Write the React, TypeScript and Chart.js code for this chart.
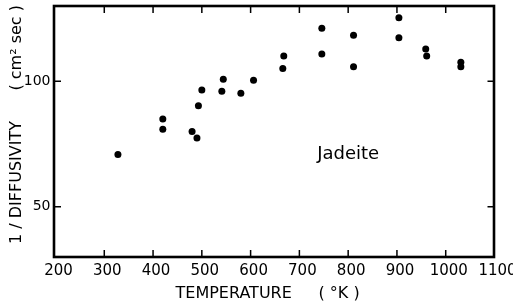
import React, { useEffect, useRef } from 'react';
import { Chart, registerables } from 'chart.js';

Chart.register(...registerables);

// Data (temperature in K, 1/diffusivity in cm^-2 sec)
const temperatureK = [328, 420, 420, 480, 490, 493, 500, 541, 544, 580, 606, 668, 666, 746, 746, 811, 811, 904, 904, 959, 961, 1031, 1031];
const inverseDiffusivity = [70.8, 85.0, 80.9, 80.0, 77.4, 90.3, 96.5, 96.0, 100.8, 95.2, 100.4, 110.1, 105.1, 121.1, 110.9, 118.3, 105.8, 125.3, 117.4, 112.9, 110.1, 107.6, 105.8];

const xTickValues = [200, 300, 400, 500, 600, 700, 800, 900, 1000, 1100];
const yTickValues = [50, 100];
const xRange = [200, 1100];
const yRange = [30, 130];

const seriesLabel = 'Jadeite';
const xTitleMain = 'TEMPERATURE';
const xTitleUnit = '( °K )';
const yTitleMain = '1 / DIFFUSIVITY';
const yTitleUnit = '( cm² sec )';
const annotationAt = { x: 800, y: 71 };

const FONT = '"DejaVu Sans", sans-serif';

const decorPlugin = {
  id: 'decor',
  afterDraw(chart: any) {
    const { ctx, chartArea } = chart;
    const xs = chart.scales.x;
    const ys = chart.scales.y;
    const { left, right, top, bottom } = chartArea;
    ctx.save();
    ctx.strokeStyle = '#000';
    // frame
    ctx.lineWidth = 2.6;
    ctx.strokeRect(left - 1.5, top, right - left + 1, bottom - top);
    // inward ticks
    ctx.lineWidth = 1.5;
    const tl = 7;
    xTickValues.forEach((v) => {
      if (v === xRange[0] || v === xRange[1]) return;
      const px = xs.getPixelForValue(v);
      ctx.beginPath();
      ctx.moveTo(px, bottom);
      ctx.lineTo(px, bottom - tl);
      ctx.moveTo(px, top);
      ctx.lineTo(px, top + tl);
      ctx.stroke();
    });
    yTickValues.forEach((v) => {
      const py = ys.getPixelForValue(v);
      ctx.beginPath();
      ctx.moveTo(left - 1.5, py);
      ctx.lineTo(left - 1.5 + tl, py);
      ctx.moveTo(right, py);
      ctx.lineTo(right - tl, py);
      ctx.stroke();
    });
    // annotation
    ctx.fillStyle = '#000';
    ctx.font = `18px ${FONT}`;
    ctx.textAlign = 'center';
    ctx.textBaseline = 'middle';
    ctx.fillText(seriesLabel, xs.getPixelForValue(annotationAt.x), ys.getPixelForValue(annotationAt.y));
    // x title
    ctx.font = `16px ${FONT}`;
    ctx.textAlign = 'left';
    ctx.fillText(xTitleMain, left + 120, bottom + 37);
    ctx.fillText(xTitleUnit, left + 263, bottom + 37);
    // y title
    ctx.translate(17, 0);
    ctx.rotate(-Math.PI / 2);
    ctx.textAlign = 'left';
    ctx.fillText(yTitleMain, -(bottom - 13), 0);
    ctx.textAlign = 'right';
    ctx.fillText(yTitleUnit, -(top - 1), 0);
    ctx.restore();
  },
};

export default function App() {
  const ref = useRef<HTMLCanvasElement | null>(null);
  useEffect(() => {
    if (!ref.current) return;
    const chart = new Chart(ref.current, {
      type: 'scatter',
      data: {
        datasets: [
          {
            label: seriesLabel,
            data: temperatureK.map((t, i) => ({ x: t, y: inverseDiffusivity[i] })),
            backgroundColor: '#000',
            borderWidth: 0,
            pointRadius: 3.5,
          },
        ],
      },
      options: {
        animation: false,
        responsive: false,
        events: [],
        layout: { padding: { top: 6, right: 18.5, bottom: 0, left: 0 } },
        plugins: { legend: { display: false }, tooltip: { enabled: false } },
        scales: {
          x: {
            type: 'linear',
            min: xRange[0],
            max: xRange[1],
            afterBuildTicks: (s: any) => {
              s.ticks = xTickValues.map((v) => ({ value: v }));
            },
            afterFit: (s: any) => {
              s.height = 49;
              s.paddingLeft = 0;
              s.paddingRight = 0;
            },
            grid: { display: false, drawTicks: false },
            border: { display: false },
            ticks: {
              color: '#000',
              font: { family: FONT, size: 15 },
              padding: 5,
              labelOffset: 3,
              maxRotation: 0,
              autoSkip: false,
              callback: (v: any) => String(v),
            },
          },
          y: {
            type: 'linear',
            min: yRange[0],
            max: yRange[1],
            afterBuildTicks: (s: any) => {
              s.ticks = yTickValues.map((v) => ({ value: v }));
            },
            afterFit: (s: any) => {
              s.width = 55.5;
              s.paddingTop = 0;
              s.paddingBottom = 0;
            },
            grid: { display: false, drawTicks: false },
            border: { display: false },
            ticks: {
              color: '#000',
              font: { family: FONT, size: 14 },
              padding: 5,
              callback: (v: any) => String(v),
            },
          },
        },
      },
      plugins: [decorPlugin],
    });
    return () => chart.destroy();
  }, []);
  return (
    <div style={{ position: 'absolute', left: 0, top: 0, width: 513, height: 306, background: '#fff' }}>
      <canvas ref={ref} width={513} height={306} style={{ width: 513, height: 306 }} />
    </div>
  );
}
